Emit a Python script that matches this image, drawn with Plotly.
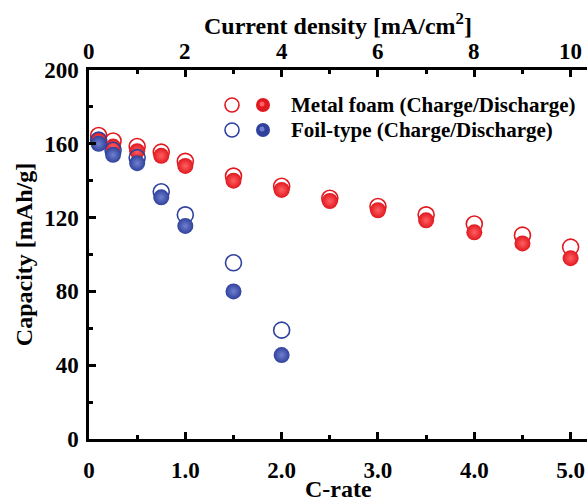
import plotly.graph_objects as go

# ---- data ----
c_rate = [0.1, 0.25, 0.5, 0.75, 1.0, 1.5, 2.0, 2.5, 3.0, 3.5, 4.0, 4.5, 5.0]
metal_charge = [164.5, 161.5, 158.5, 155.5, 150.5, 142.5, 137.0, 130.5, 126.0, 121.5, 116.5, 110.5, 104.0]
metal_discharge = [162.0, 158.5, 156.0, 153.5, 148.0, 140.0, 135.0, 129.0, 124.0, 118.5, 112.0, 106.0, 98.0]

foil_rate = [0.1, 0.25, 0.5, 0.75, 1.0, 1.5, 2.0]
foil_charge = [162.0, 156.5, 152.5, 134.0, 121.5, 95.5, 59.0]
foil_discharge = [160.0, 154.0, 149.5, 131.0, 115.5, 80.0, 45.5]

x_ticks = [0, 1, 2, 3, 4, 5]
x_ticktext = ["0", "1.0", "2.0", "3.0", "4.0", "5.0"]
y_ticks = [0, 40, 80, 120, 160, 200]
top_ticks = [0, 2, 4, 6, 8, 10]          # current density (mA/cm2)
CD_PER_C = 2.0                            # current density per C-rate unit

legend_labels = ["Metal foam (Charge/Discharge)", "Foil-type (Charge/Discharge)"]

# ---- styles ----
RED = "#e01820"
RED_HI = "#ff6060"
BLUE = "#2f419c"
BLUE_HI = "#7080d0"
FONT = "Liberation Serif"
MS = 16
W, H = 587, 500
ML, MR, MT, MB = 89, 0, 70, 61
XMAX = 5.17

fig = go.Figure()

def open_trace(x, y, color, size=MS, **kw):
    return go.Scatter(x=x, y=y, mode="markers", showlegend=False, hoverinfo="skip",
                      marker=dict(symbol="circle-open", size=size, color=color,
                                  line=dict(width=1.6, color=color)), **kw)

def filled_trace(x, y, color, hi, size=MS, **kw):
    return go.Scatter(x=x, y=y, mode="markers", showlegend=False, hoverinfo="skip",
                      marker=dict(symbol="circle", size=size, color=color,
                                  gradient=dict(type="radial", color=hi),
                                  line=dict(width=0)), **kw)

fig.add_trace(open_trace(c_rate, metal_charge, RED))
fig.add_trace(filled_trace(c_rate, metal_discharge, RED, RED_HI))
fig.add_trace(open_trace(foil_rate, foil_charge, BLUE))
fig.add_trace(filled_trace(foil_rate, foil_discharge, BLUE, BLUE_HI))

tickfont = dict(family=FONT, size=23, color="black", weight="bold")
titlefont = dict(family=FONT, size=24, color="black", weight="bold")

def minor(dt):
    return dict(tickmode="linear", tick0=0, dtick=dt, ticks="inside",
                ticklen=4, tickwidth=2.5, tickcolor="black")

common = dict(ticks="inside", ticklen=7, tickwidth=2.5, tickcolor="black",
              showgrid=False, zeroline=False, tickfont=tickfont,
              showline=True, linewidth=2.5, linecolor="black")

fig.update_layout(
    width=W, height=H,
    margin=dict(l=ML, r=MR, t=MT, b=MB, autoexpand=False),
    paper_bgcolor="white", plot_bgcolor="white",
    xaxis=dict(range=[0, XMAX], tickvals=x_ticks, ticktext=x_ticktext,
               minor=minor(0.5), ticklabelstandoff=9, mirror="allticks",
               automargin=False, **common),
    yaxis=dict(range=[0, 200], tickvals=y_ticks, minor=minor(20), ticklabelstandoff=3,
               mirror=False, automargin=False,
               title=dict(text="Capacity [mAh/g]", font=titlefont, standoff=5), **common),
    showlegend=False,
)

# bottom axis title
fig.add_annotation(x=0.5, y=0, xref="paper", yref="paper", yshift=-50,
                   text="C-rate", showarrow=False, xanchor="center", yanchor="middle",
                   font=titlefont)

# top (current density) tick labels, placed at matching C-rate positions
for t in top_ticks:
    fig.add_annotation(x=t / CD_PER_C, y=1, xref="x", yref="paper", yshift=19,
                       text=str(t), showarrow=False, xanchor="center", yanchor="middle",
                       font=tickfont)

# top axis title
fig.add_annotation(x=0.5, y=1, xref="paper", yref="paper", yshift=46,
                   text="Current density [mA/cm<sup>2</sup>]", showarrow=False,
                   xanchor="center", yanchor="middle", font=titlefont)

# custom legend (layout positions in pixels -> paper)
def px_x(p):
    return (p - ML) / (W - ML - MR)

def px_y(p):
    return (H - MB - p) / (H - MT - MB)

leg_x_open, leg_x_fill, leg_text_x = 232, 263, 289
leg_rows = [105, 130]
leg_colors = [(RED, RED_HI), (BLUE, BLUE_HI)]
R = 7
for lbl, yrow, (c, hi) in zip(legend_labels, leg_rows, leg_colors):
    fig.add_shape(type="circle", xref="paper", yref="paper",
                  x0=px_x(leg_x_open - R), x1=px_x(leg_x_open + R),
                  y0=px_y(yrow + R), y1=px_y(yrow - R),
                  line=dict(color=c, width=1.6), fillcolor="rgba(0,0,0,0)")
    fig.add_shape(type="circle", xref="paper", yref="paper",
                  x0=px_x(leg_x_fill - R), x1=px_x(leg_x_fill + R),
                  y0=px_y(yrow + R), y1=px_y(yrow - R),
                  line=dict(color=c, width=0), fillcolor=c)
    fig.add_shape(type="circle", xref="paper", yref="paper",
                  x0=px_x(leg_x_fill - 3.5), x1=px_x(leg_x_fill + 1.5),
                  y0=px_y(yrow + 1.5), y1=px_y(yrow - 3.5),
                  line=dict(width=0), fillcolor=hi)
    fig.add_annotation(x=px_x(leg_text_x), y=px_y(yrow), xref="paper", yref="paper",
                       text=lbl, showarrow=False, xanchor="left", yanchor="middle",
                       font=dict(family=FONT, size=21, color="black", weight="bold"))

fig.write_html("out.html")
